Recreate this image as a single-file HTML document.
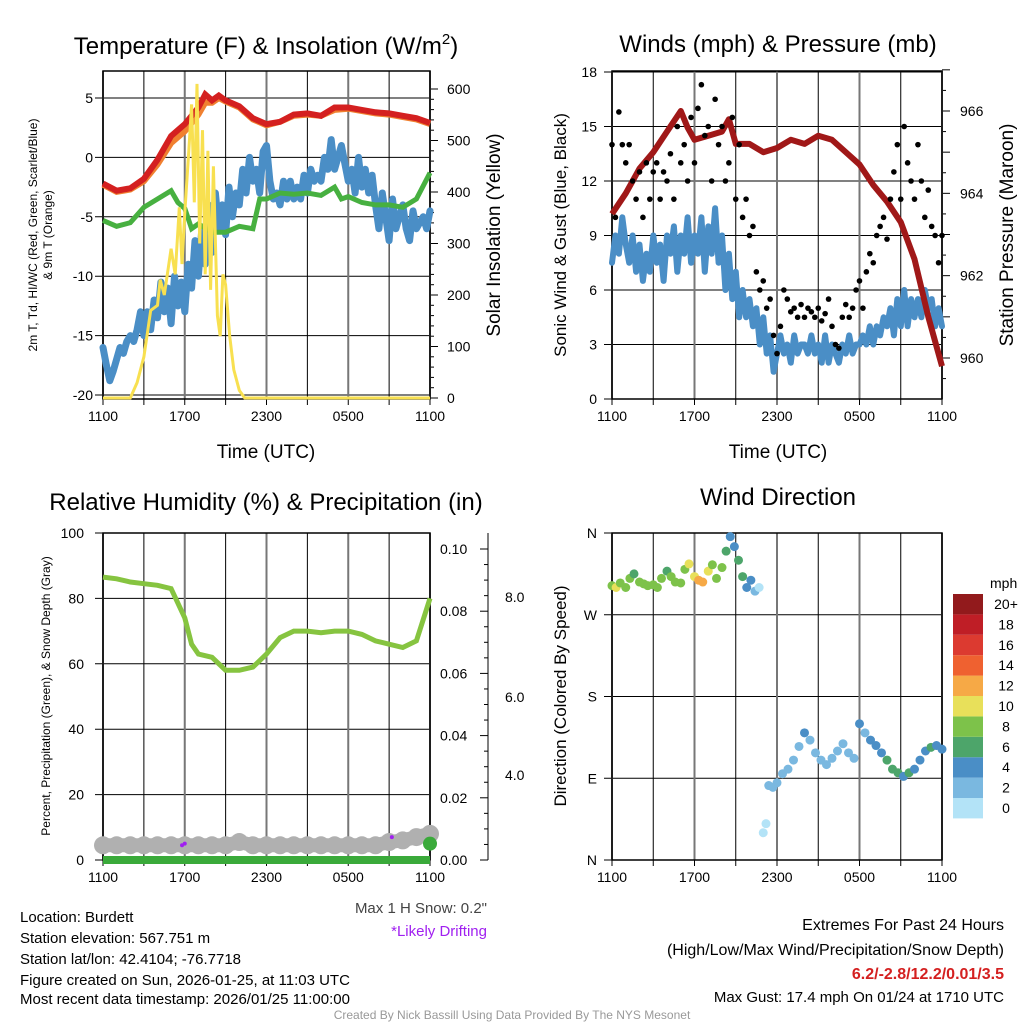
<!DOCTYPE html>
<html><head><meta charset="utf-8"><style>
body{margin:0;background:#fff}
svg{font-family:"Liberation Sans",Arial,sans-serif}
</style></head><body>
<svg id="s" width="1024" height="1024" viewBox="0 0 1024 1024" xmlns="http://www.w3.org/2000/svg">
<rect width="1024" height="1024" fill="#fff"/>
<text x="266" y="54" font-size="24" text-anchor="middle">Temperature (F) &amp; Insolation (W/m<tspan font-size="15" dy="-10">2</tspan><tspan dy="10">)</tspan></text>
<text x="778" y="52" font-size="24" text-anchor="middle">Winds (mph) &amp; Pressure (mb)</text>
<text x="266" y="510" font-size="24" text-anchor="middle">Relative Humidity (%) &amp; Precipitation (in)</text>
<text x="778" y="505" font-size="24" text-anchor="middle">Wind Direction</text>
<g id="g"></g>
<g font-size="15">
<text x="20" y="922">Location: Burdett</text>
<text x="20" y="943">Station elevation: 567.751 m</text>
<text x="20" y="964">Station lat/lon: 42.4104; -76.7718</text>
<text x="20" y="985">Figure created on Sun, 2026-01-25, at 11:03 UTC</text>
<text x="20" y="1004">Most recent data timestamp: 2026/01/25 11:00:00</text>
</g>
<text x="487" y="913" font-size="15" text-anchor="end" fill="#444">Max 1 H Snow: 0.2"</text>
<text x="487" y="936" font-size="15" text-anchor="end" fill="#a020f0">*Likely Drifting</text>
<g font-size="16" text-anchor="end">
<text x="1004" y="930">Extremes For Past 24 Hours</text>
<text x="1004" y="955">(High/Low/Max Wind/Precipitation/Snow Depth)</text>
<text x="1004" y="979" fill="#d42020" font-weight="bold">6.2/-2.8/12.2/0.01/3.5</text>
<text x="1004" y="1002" font-size="15">Max Gust: 17.4 mph On 01/24 at 1710 UTC</text>
</g>
<text x="512" y="1019" font-size="12" text-anchor="middle" fill="#999">Created By Nick Bassill Using Data Provided By The NYS Mesonet</text>
</svg>
<script>
// ---- data ----
const hourLabels=["1100","1700","2300","0500","1100"];
const tempT=[0,1,2,3,4,5,6,7,7.5,8,8.5,9,10,11,12,13,14,15,16,17,18,19,20,21,22,23,24];
const tempRed=[-2.2,-2.8,-2.6,-1.8,-0.2,1.8,2.8,4.2,5.3,4.8,5.2,4.8,4.3,3.3,2.8,3.0,3.6,3.7,3.5,4.2,4.2,4.0,3.8,3.7,3.5,3.3,2.9];
const tempOrange=[-2.3,-2.9,-2.7,-2.0,-0.6,1.2,2.2,3.6,4.6,4.6,5.0,4.7,4.2,3.2,2.7,3.0,3.5,3.6,3.5,4.0,4.1,3.9,3.7,3.6,3.4,3.2,2.8];
const dewT=[0,1,2,3,4,5,5.5,6,6.5,7,8,9,10,11,11.5,12,13,14,15,16,17,17.5,18,19,20,21,22,23,24];
const dewVal=[-5.3,-5.8,-5.5,-4.2,-3.5,-2.8,-3.8,-4.3,-6,-5.6,-6.3,-6.3,-5.8,-6.0,-3.5,-3.5,-3,-3.1,-3,-3.2,-2.5,-3.5,-3.3,-3.8,-4,-4,-4.2,-3.5,-1.3];
// wind chill, every 15 min
const wcVal=[-16,-17.5,-18.8,-18,-17,-16,-16.5,-15.5,-15,
-15.5,-14.5,-13,-15,-13,-14.5,-12,-13.5,
-10.5,-13,-11,-14,-10,-12.5,-10.5,-13,
-9,-11,-7,-10,-6,-9,-4,-8,
-3,-6,-4,-6.5,-2.5,-5,-3,-4,
-1,-3,0,-2,-1,-3,0.5,1,
-2,-3.5,-3,-4,-2,-3.5,-2,-3.5,
-2.5,-3.5,-1.5,-3,-1,-2,-1.5,-2,
0,-1,1.5,-1,0,1,-0.5,-2,
-1,-3,0,-2.5,-1,-3,-1.5,-4,
-6,-3,-5,-7,-3.5,-6,-5,-4,
-6,-7,-4.5,-6,-5.5,-5,-6,-4.5];
const solT=[0,2,2.5,3,3.5,4,4.2,4.5,5,5.3,5.6,5.8,6,6.3,6.5,6.7,6.9,7.1,7.3,7.5,7.7,7.9,8.1,8.4,8.6,8.8,9,9.3,9.6,10,10.4,24];
const solVal=[0,0,30,80,170,180,230,200,290,240,370,260,360,480,570,380,610,300,520,240,480,210,450,160,120,240,220,120,55,15,0,0];
// wind speed, every 15 min
const windVal=[7.5,9,8,10,8.5,7.5,9,7,8.5,
6.5,8,7,9,7.5,8.5,6.5,9,
8,9.5,7,9,8,10,7.5,9,
8,10,7,9.5,8,10.5,7.5,9,
6,8,5.5,7,4.5,6,4.5,5.5,
4,5,3,4.5,2.5,3.5,1.5,2.5,
3.5,2.5,3,2,3.5,2.5,3,3,
2.5,3.5,2.5,3,2,3.5,2,3,
2.5,2,3,2.5,3.5,2.5,3,3,
3.5,3,4,3,4,3.5,4.5,4,
5,3.5,5.5,4,6,4,5.5,4.5,
5.5,4.5,6,5,5.5,4,5,4];
const gustVal=[14,10,15.8,14,13,14,12,11,12.5,10,13,11,12.5,13,11,12.5,12,13.5,11,15,13,14,12,15.5,13,16,17.3,14.5,15,12,16.5,14,15,12,13,15.5,11,14,10,11,9,9.5,7,6,6.5,5,5.5,3.5,2.5,4,6,5.5,4.8,5,4.5,5.2,4.5,5,4.8,4.5,5,4.3,4.7,5.5,4,3,2.8,4.5,5.2,4.5,5,6,6.5,5,7,8,7.5,9,9.5,10,8.8,11,12.5,14,11,15,13,12,11,14,12,10,11.5,9.5,9,7.5,9];
const presT=[0,1,2,3,4,5,5.5,6,7,8,8.5,9,10,11,12,13,14,15,16,17,18,19,20,21,22,23,24];
const presVal=[963.5,964.0,964.6,965.0,965.5,966.0,965.6,965.3,965.4,965.5,965.8,965.2,965.2,965.0,965.1,965.3,965.2,965.4,965.3,965.0,964.7,964.2,963.8,963.3,962.4,961.0,959.8];
const rhT=[0,1,2,3,4,5,6,6.5,7,8,9,10,11,12,13,14,15,16,17,18,19,20,21,22,23,24];
const rhVal=[86.5,86,85,84.5,84,83,74,66,63,62,58,58,59,63,68,70,70,69.5,70,70,69,67,66,65,67,80];
const snowT=[0,1,2,3,4,5,6,7,8,9,10,11,12,13,14,15,16,17,18,19,20,21,22,23,24];
const snowVal=[4.5,4.5,4.5,4.5,4.5,4.5,4.5,4.5,4.5,4.5,5.5,4.5,4.5,4.5,4.5,4.5,4.5,4.5,4.5,4.5,4.5,5.5,6,7,8];
const dirT=[0,0.3,0.6,1,1.3,1.6,2,2.3,2.6,3,3.3,3.6,4,4.3,4.6,5,5.3,5.6,6,6.3,6.6,7,7.3,7.6,8,8.3,8.6,8.9,9.2,9.5,9.8,10.1,10.4,10.7,11,11.2,11.4,11.7,12,12.4,12.8,13.2,13.6,14,14.4,14.8,15.2,15.6,16,16.4,16.8,17.2,17.6,18,18.4,18.8,19.2,19.6,20,20.4,20.8,21.2,21.6,22,22.4,22.8,23.2,23.6,24];
const dirVal=[302,300,305,300,310,315,306,304,302,303,300,310,318,312,306,305,320,326,312,308,306,318,325,310,322,340,356,345,330,312,300,308,296,300,30,40,82,80,85,95,100,110,125,140,132,118,110,105,112,120,128,118,112,150,140,132,126,118,110,100,96,92,96,100,110,120,124,126,122];
const dirSpd=[8,10,9,8,9,7,9,8,9,8,8,9,7,8,9,8,9,10,11,13,12,10,9,8,9,7,5,4,7,6,5,4,2,1,1,0.5,2,3,2.5,2.5,3,3,2.5,5,3,3,2.5,3,2.5,3,3,3,2.5,4.5,3,4,4.5,4,6,6,7,5,6.5,5,4,5,7,5,4];
const speedLabels=["0","2","4","6","8","10","12","14","16","18","20+"];
const speedColors=["#b3e3f7","#7ab8e0","#4a8ec6","#4da56a","#7dc24a","#e8e05a","#f6a946","#ef6130","#dc3a30","#bf1e26","#921a1c"];
// ---- drawing ----
const NS="http://www.w3.org/2000/svg", G=document.getElementById('g');
function el(tag,attrs,parent,txt){const e=document.createElementNS(NS,tag);for(const k in attrs)e.setAttribute(k,attrs[k]);if(txt!==undefined)e.textContent=txt;(parent||G).appendChild(e);return e;}
function lin(d0,d1,r0,r1){return v=>r0+(v-d0)*(r1-r0)/(d1-d0);}
function path(ts,vs,xf,yf){return ts.map((t,i)=>(i?'L':'M')+xf(t).toFixed(1)+' '+yf(vs[i]).toFixed(1)).join(' ');}
function qpath(vs,xf,yf){return vs.map((v,i)=>(i?'L':'M')+xf(i*0.25).toFixed(1)+' '+yf(v).toFixed(1)).join(' ');}
function frame(x0,x1,y0,y1,name){
  const xf=lin(0,24,x0,x1);
  for(let h=0;h<=24;h+=3){const l=el('line',{x1:xf(h),x2:xf(h),y1:y0,y2:y1,stroke:h%6?'#000':'#777','stroke-width':h%6?1:2});
    el('line',{x1:xf(h),x2:xf(h),y1:y1,y2:y1+6,stroke:'#000'});}
  hourLabels.forEach((s,i)=>{const t=el('text',{x:xf(i*6),y:y1+22,'font-size':14,'text-anchor':'middle'},G,s);});
  const r=el('rect',{x:x0,y:y0,width:x1-x0,height:y1-y0,fill:'none',stroke:'#000','stroke-width':1.5});
  return xf;
}
function hgrid(x0,x1,y,lab,xl,name,side){const l=el('line',{x1:x0-8,x2:x1,y1:y,y2:y,stroke:'#000'});
  const t=el('text',{x:xl,y:y+5,'font-size':14,'text-anchor':side||'end'},G,lab);}

// Panel 1
{const x0=103,x1=430,y0=71,y1=399;const yf=lin(-20,5,395,98), ys=lin(0,600,398,89);
 for(let v=-20;v<=5;v+=5)hgrid(x0,x1,yf(v),String(v),93,'temp');
 for(let v=0;v<=600;v+=20){el('line',{x1:x1,x2:x1+(v%100?4:8),y1:ys(v),y2:ys(v),stroke:'#000'});}
 for(let v=0;v<=600;v+=100){const t=el('text',{x:447,y:ys(v)+5,'font-size':14},G,String(v));}
 const xf=frame(x0,x1,y0,y1,'temp');
 let p=el('path',{d:qpath(wcVal,xf,yf),fill:'none',stroke:'#4a8ec6','stroke-width':7,'stroke-linejoin':'round','stroke-linecap':'round'});
 p=el('path',{d:path(dewT,dewVal,xf,yf),fill:'none',stroke:'#47b040','stroke-width':5});
 p=el('path',{d:path(tempT,tempOrange,xf,yf),fill:'none',stroke:'#f08030','stroke-width':6});
 p=el('path',{d:path(tempT,tempRed,xf,yf),fill:'none',stroke:'#d42020','stroke-width':6});
 p=el('path',{d:path(solT,solVal,xf,ys),fill:'none',stroke:'#f8e050','stroke-width':3});
 let t=el('text',{x:266,y:458,'font-size':19,'text-anchor':'middle'},G,'Time (UTC)');
 t=el('text',{transform:'translate(500,235) rotate(-90)','font-size':19,'text-anchor':'middle'},G,'Solar Insolation (Yellow)');
 t=el('text',{transform:'translate(37,235) rotate(-90)','font-size':12,'text-anchor':'middle'},G,'2m T, Td, HI/WC (Red, Green, Scarlet/Blue)');
 t=el('text',{transform:'translate(52,235) rotate(-90)','font-size':12,'text-anchor':'middle'},G,'& 9m T (Orange)');
}
// Panel 2
{const x0=612,x1=942,y0=71,y1=399;const yf=lin(0,18,399,72), yp=lin(960,966,358,111);
 for(let v=0;v<=18;v+=3)hgrid(x0,x1,yf(v),String(v),597,'wind');
 for(let v=959.5;v<=967;v+=0.5){el('line',{x1:x1,x2:x1+(v%1?4:8),y1:yp(v),y2:yp(v),stroke:'#000'});}
 for(let v=960;v<=966;v+=2){const t=el('text',{x:960,y:yp(v)+5,'font-size':14},G,String(v));}
 const xf=frame(x0,x1,y0,y1,'wind');
 let p=el('path',{d:qpath(windVal,xf,yf),fill:'none',stroke:'#4a8ec6','stroke-width':6,'stroke-linejoin':'round','stroke-linecap':'round'});
 p=el('path',{d:path(presT,presVal,xf,yp),fill:'none',stroke:'#a01818','stroke-width':6,'stroke-linejoin':'round'});
 gustVal.forEach((v,i)=>{const c=el('circle',{cx:xf(i*0.25),cy:yf(v),r:2.8,fill:'#000'});});
 let t=el('text',{x:778,y:458,'font-size':19,'text-anchor':'middle'},G,'Time (UTC)');
 t=el('text',{transform:'translate(566,235) rotate(-90)','font-size':17,'text-anchor':'middle'},G,'Sonic Wind & Gust (Blue, Black)');
 t=el('text',{transform:'translate(1013,235) rotate(-90)','font-size':19,'text-anchor':'middle'},G,'Station Pressure (Maroon)');
}
// Panel 3
{const x0=103,x1=430,y0=533,y1=860;const yf=lin(0,100,860,533), yr=lin(0,0.1,860,549);
 for(let v=0;v<=100;v+=20)hgrid(x0,x1,yf(v),String(v),84,'rh');
 el('line',{x1:488,x2:488,y1:533,y2:860,stroke:'#000'});
 for(let v=0;v<=0.105;v+=0.005){el('line',{x1:488,x2:488-(Math.round(v*1000)%20?4:8),y1:yr(v),y2:yr(v),stroke:'#000'});}
 for(let v=0;v<=0.1001;v+=0.02){const t=el('text',{x:440,y:yr(v)+5,'font-size':14},G,v.toFixed(2));}
 [["4.0",775],["6.0",697],["8.0",597]].forEach(a=>{const t=el('text',{x:505,y:a[1]+5,'font-size':14},G,a[0]);});
 const xf=frame(x0,x1,y0,y1,'rh');
 let p=el('path',{d:path(snowT,snowVal,xf,yf),fill:'none',stroke:'#b0b0b0','stroke-width':14,'stroke-linecap':'round'});
 snowT.forEach((t,i)=>{const c=el('circle',{cx:xf(t),cy:yf(snowVal[i]),r:9,fill:'#b0b0b0'});});
 p=el('path',{d:path([0,24],[0,0],xf,yf),fill:'none',stroke:'#3aaa3a','stroke-width':8});
 let c=el('circle',{cx:xf(24),cy:yf(5),r:7,fill:'#3aaa3a'});
 [[5.8,4.5],[6,5],[21.2,7]].forEach(a=>{const d=el('circle',{cx:xf(a[0]),cy:yf(a[1]),r:2,fill:'#a020f0'});});
 p=el('path',{d:path(rhT,rhVal,xf,yf),fill:'none',stroke:'#86c440','stroke-width':5});
 let t=el('text',{transform:'translate(50,696) rotate(-90)','font-size':12,'text-anchor':'middle'},G,'Percent, Precipitation (Green), & Snow Depth (Gray)');
}
// Panel 4
{const x0=612,x1=942,y0=533,y1=860;const yf=lin(0,360,860,533);
 [["N",360],["W",270],["S",180],["E",90],["N",0]].forEach(a=>hgrid(x0,x1,yf(a[1]),a[0],597,'dir'));
 const xf=frame(x0,x1,y0,y1,'dir');
 dirT.forEach((t,i)=>{const b=Math.min(10,Math.floor(dirSpd[i]/2));const c=el('circle',{cx:xf(t),cy:yf(dirVal[i]),r:4.5,fill:speedColors[b]});});
 let t=el('text',{transform:'translate(566,696) rotate(-90)','font-size':17,'text-anchor':'middle'},G,'Direction (Colored By Speed)');
 t=el('text',{x:990,y:588,'font-size':14},G,'mph');
 speedColors.forEach((col,i)=>{const y=798-i*20.4;const r=el('rect',{x:953,y:y,width:30,height:20.4,fill:col});
   const l=el('text',{x:1006,y:y+15,'font-size':14,'text-anchor':'middle'},G,speedLabels[i]);});
}
</script>
</body></html>
